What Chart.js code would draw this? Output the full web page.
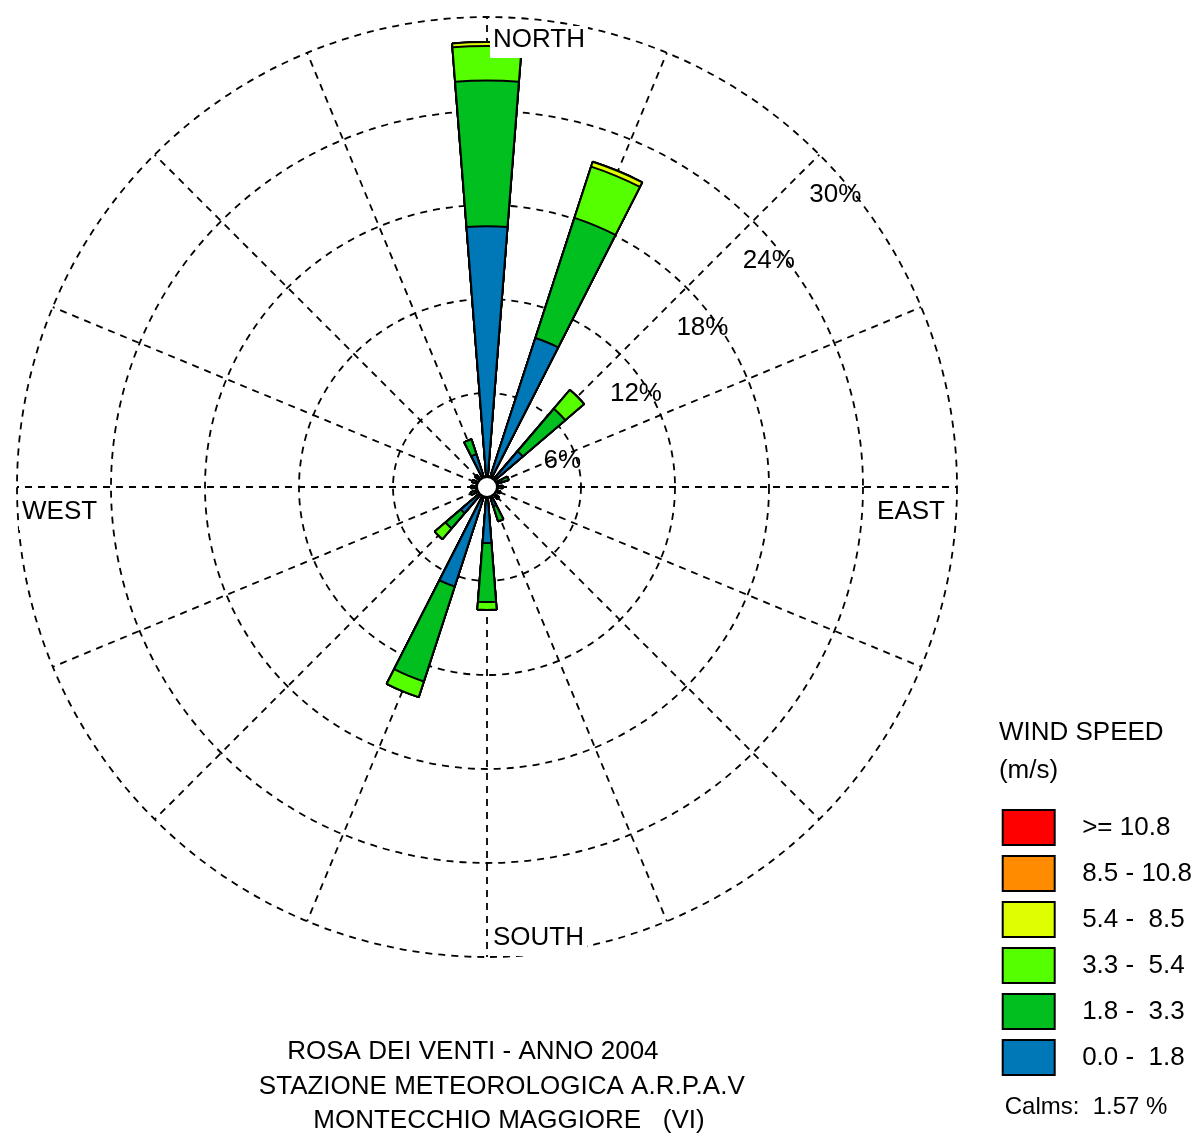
<!DOCTYPE html>
<html>
<head>
<meta charset="utf-8">
<script src="https://cdn.jsdelivr.net/npm/chart.js@4.4.1/dist/chart.umd.min.js"></script>
<style>
  html, body { margin: 0; padding: 0; background: #fff; overflow: hidden; }
  /* la tela e' un po' piu' larga e spostata a sinistra: centra la rosa come nell'originale */
  #rosa { display: block; margin-left: -17px; }
</style>
</head>
<body>
<canvas id="rosa" width="1219" height="1137"></canvas>
<script>
// settori di provenienza (16)
const directions = ['N', 'NNE', 'NE', 'ENE', 'E', 'ESE', 'SE', 'SSE', 'S', 'SSW', 'SW', 'WSW', 'W', 'WNW', 'NW', 'NNW'];

// classi di velocita' (m/s)
const speedClasses = ['0.0 -  1.8', '1.8 -  3.3', '3.3 -  5.4', '5.4 -  8.5', '8.5 - 10.8', '>= 10.8'];
const speedColors = ['#0078b8', '#00bf1f', '#55ff00', '#ddff00', '#ff8c00', '#ff0000'];

// frequenze (%) per settore, una lista per classe
const v00_18 = [16.65, 10.0, 3.0, 1.0, 0.7, 0.6, 0.7, 1.3, 3.57, 6.68, 2.2, 0.8, 0.7, 0.7, 0.7, 2.2];
const v18_33 = [9.3, 8.06, 3.57, 0.45, 0.3, 0.3, 0.3, 1.0, 3.77, 6.37, 1.28, 0.3, 0.3, 0.3, 0.3, 1.0];
const v33_54 = [2.2, 3.44, 1.58, 0, 0, 0, 0, 0, 0.51, 1.05, 0.9, 0, 0, 0, 0, 0];
const v54_85 = [0.25, 0.33, 0, 0, 0, 0, 0, 0, 0, 0, 0, 0, 0, 0, 0, 0];
const v85_108 = [0, 0, 0, 0, 0, 0, 0, 0, 0, 0, 0, 0, 0, 0, 0, 0];
const v108 = [0, 0, 0, 0, 0, 0, 0, 0, 0, 0, 0, 0, 0, 0, 0, 0];

const ringTicks = [6, 12, 18, 24, 30];
const calms = 1.57;

const titleLines = ['ROSA DEI VENTI - ANNO 2004    ', '    STAZIONE METEOROLOGICA A.R.P.A.V', '      MONTECCHIO MAGGIORE   (VI)'];

const FONT = '"Liberation Sans", Arial, sans-serif';
const BAR_DEG = 9;            // larghezza del petalo
const SECTOR = 360 / directions.length;

Chart.defaults.font.family = FONT;
Chart.defaults.color = '#000';

// petali impilati: ogni dataset e' la somma cumulata fino alla sua classe,
// intervallati da uno spicchio vuoto
const classes = [v00_18, v18_33, v33_54, v54_85, v85_108, v108];
const cumul = directions.map(() => 0);
const datasets = classes.map((vals, k) => {
    const data = [];
    vals.forEach((v, d) => {
        cumul[d] += v;
        data.push(+cumul[d].toFixed(2));
        data.push(0);
    });
    return {
        label: speedClasses[k],
        rAxisID: 'r',
        data: data,
        backgroundColor: speedColors[k],
        borderColor: '#000',
        borderWidth: (c) => c.dataIndex % 2 ? 0 : 2,
        angle: (c) => c.dataIndex % 2 ? SECTOR - BAR_DEG : BAR_DEG
    };
});

const roseLabels = {
    id: 'roseLabels',
    afterDatasetsDraw(chart) {
        const s = chart.scales.rg;
        const ctx = chart.ctx;
        const xc = s.xCenter, yc = s.yCenter, R = s.drawingArea;
        ctx.save();

        // calme
        ctx.beginPath();
        ctx.arc(xc, yc, 10, 0, Math.PI * 2);
        ctx.fillStyle = '#fff';
        ctx.fill();
        ctx.lineWidth = 2;
        ctx.strokeStyle = '#000';
        ctx.stroke();

        ctx.font = '26px ' + FONT;
        ctx.textBaseline = 'middle';

        const compass = [
            ['NORTH', 'left', xc + 6, yc - R + 23],
            ['EAST', 'right', xc + R - 12, yc + 25],
            ['WEST', 'left', xc - R + 5, yc + 25],
            ['SOUTH', 'left', xc + 6, yc + R - 19]
        ];
        compass.forEach(([t, align, x, y]) => {
            const w = ctx.measureText(t).width;
            const x0 = align === 'left' ? x : x - w;
            ctx.fillStyle = '#fff';
            ctx.fillRect(x0 - 3, y - 14, w + 6, 32);
            ctx.fillStyle = '#000';
            ctx.textAlign = align;
            ctx.fillText(t, x, y);
        });

        // percentuali sugli anelli, lungo la direzione NE
        ctx.textAlign = 'left';
        ringTicks.forEach((v) => {
            const p = s.getPointPosition(2, s.getDistanceFromCenterForValue(v));
            ctx.fillText(v + '%', p.x - 10, p.y + 40);
        });

        // calme sotto la legenda
        const hb = chart.legend.legendHitBoxes;
        const last = hb[hb.length - 1];
        ctx.font = '24px ' + FONT;
        ctx.fillText('Calms:  ' + calms.toFixed(2) + ' %', last.left + 2, last.top + 67);
        ctx.restore();
    }
};

new Chart(document.getElementById('rosa'), {
    type: 'polarArea',
    data: {
        labels: directions,
        datasets: datasets
    },
    options: {
        responsive: false,
        animation: false,
        events: [],
        layout: {
            padding: { left: 0, right: 0, top: 17, bottom: 0 }
        },
        scales: {
            r: {
                type: 'radialLinear',
                min: 0,
                max: 30,
                startAngle: -BAR_DEG / 2,
                grid: { display: false },
                angleLines: { display: false },
                ticks: { display: false },
                pointLabels: { display: false }
            },
            rg: {
                type: 'radialLinear',
                axis: 'r',
                min: 0,
                max: 30,
                startAngle: 0,
                ticks: { display: false, stepSize: 6 },
                grid: { circular: true, color: '#000', lineWidth: 1.8 },
                border: { dash: [7, 6] },
                angleLines: { display: true, color: '#000', lineWidth: 1.8, borderDash: [7, 6] },
                pointLabels: { display: false }
            }
        },
        plugins: {
            tooltip: { enabled: false },
            legend: {
                position: 'right',
                align: 'start',
                title: {
                    display: true,
                    text: [' WIND SPEED', ' (m/s)'],
                    position: 'start',
                    color: '#000',
                    font: { size: 26, lineHeight: 38 / 26 },
                    padding: { top: 703, bottom: 41 }
                },
                labels: {
                    boxWidth: 52,
                    boxHeight: 35,
                    padding: 11,
                    color: '#000',
                    font: { size: 26 },
                    generateLabels: () => speedClasses.map((t, i) => ({
                        text: '  ' + t,
                        fillStyle: speedColors[i],
                        strokeStyle: '#000',
                        lineWidth: 2,
                        hidden: false,
                        datasetIndex: i
                    })).reverse()
                }
            },
            title: {
                display: true,
                position: 'bottom',
                fullSize: false,
                text: titleLines,
                color: '#000',
                font: { size: 26, weight: 'normal', lineHeight: 34.5 / 26 },
                padding: { top: 77.75, bottom: -1.25 }
            }
        }
    },
    plugins: [roseLabels]
});
</script>
</body>
</html>
